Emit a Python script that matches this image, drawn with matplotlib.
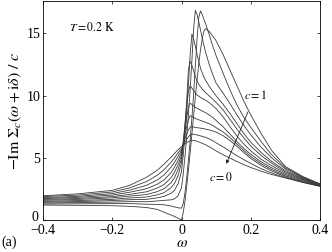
import matplotlib
matplotlib.use('Agg')
import matplotlib.pyplot as plt
from matplotlib.transforms import ScaledTranslation

omega = [-0.4, -0.3, -0.2, -0.15, -0.1, -0.07, -0.05, -0.03, -0.02, -0.01, 0.0,
         0.005, 0.01, 0.015, 0.02, 0.025, 0.03, 0.035, 0.04, 0.045, 0.05, 0.055,
         0.06, 0.065, 0.07, 0.08, 0.09, 0.1, 0.12, 0.14, 0.16, 0.18, 0.2, 0.23,
         0.26, 0.3, 0.35, 0.4]

# -Im Sigma_c / c for c = 0, 0.1, ..., 1
sigma_c00 = [1.95, 2.1, 2.38, 2.78, 3.45, 4.0, 4.5, 5.05, 5.35, 5.65, 5.9,
             6.02, 6.12, 6.22, 6.3, 6.36, 6.4, 6.4, 6.37, 6.33, 6.28, 6.22, 6.16, 6.1, 6.04,
             5.88, 5.72, 5.55, 5.25, 4.97, 4.7, 4.45, 4.22, 3.92, 3.66, 3.38, 3.02, 2.7]
sigma_c01 = [1.88, 2.0, 2.25, 2.58, 3.1, 3.6, 4.05, 4.65, 5.0, 5.4, 5.75,
             6.0, 6.25, 6.48, 6.68, 6.84, 6.9, 6.89, 6.86, 6.83, 6.8, 6.76, 6.72, 6.68, 6.64,
             6.52, 6.38, 6.2, 5.88, 5.52, 5.17, 4.85, 4.55, 4.12, 3.78, 3.4, 3.04, 2.72]
sigma_c02 = [1.8, 1.9, 2.12, 2.4, 2.8, 3.22, 3.63, 4.25, 4.65, 5.12, 5.6,
             6.05, 6.5, 6.9, 7.25, 7.47, 7.5, 7.47, 7.44, 7.42, 7.4, 7.38, 7.36, 7.33, 7.3,
             7.24, 7.16, 7.06, 6.78, 6.38, 5.92, 5.42, 4.95, 4.38, 3.94, 3.48, 3.07, 2.74]
sigma_c03 = [1.72, 1.82, 2.0, 2.23, 2.52, 2.88, 3.23, 3.82, 4.25, 4.8, 5.4,
             6.1, 6.85, 7.5, 8.05, 8.38, 8.32, 8.24, 8.17, 8.11, 8.05, 8.0, 7.95, 7.9, 7.85,
             7.74, 7.6, 7.42, 7.08, 6.62, 6.1, 5.58, 5.1, 4.52, 4.06, 3.55, 3.13, 2.76]
sigma_c04 = [1.65, 1.73, 1.88, 2.06, 2.27, 2.57, 2.86, 3.4, 3.85, 4.45, 5.2,
             6.2, 7.2, 8.2, 9.1, 9.38, 9.28, 9.15, 9.05, 8.97, 8.9, 8.83, 8.76, 8.69, 8.62,
             8.45, 8.25, 8.0, 7.5, 6.9, 6.3, 5.75, 5.28, 4.67, 4.2, 3.65, 3.2, 2.78]
sigma_c05 = [1.58, 1.65, 1.78, 1.92, 2.05, 2.28, 2.52, 3.0, 3.42, 4.05, 4.95,
             6.3, 7.7, 9.1, 10.4, 10.78, 10.6, 10.4, 10.2, 10.05, 9.95, 9.85, 9.77, 9.7, 9.62,
             9.43, 9.2, 8.95, 8.3, 7.5, 6.75, 6.1, 5.55, 4.88, 4.37, 3.75, 3.25, 2.8]
sigma_c06 = [1.5, 1.56, 1.66, 1.77, 1.85, 2.02, 2.2, 2.6, 2.95, 3.55, 4.6,
             6.0, 7.6, 9.6, 12.1, 12.75, 12.45, 12.0, 11.55, 11.15, 10.9, 10.7, 10.52, 10.36, 10.22,
             9.97, 9.72, 9.45, 8.85, 8.1, 7.3, 6.6, 5.95, 5.18, 4.57, 3.86, 3.3, 2.82]
sigma_c07 = [1.43, 1.48, 1.56, 1.63, 1.66, 1.78, 1.9, 2.15, 2.4, 2.9, 3.9,
             5.2, 6.8, 8.7, 10.9, 13.3, 14.95, 14.55, 13.95, 13.3, 12.7, 12.2, 11.8, 11.48, 11.2,
             10.75, 10.35, 9.98, 9.3, 8.55, 7.75, 6.95, 6.25, 5.42, 4.72, 3.96, 3.35, 2.84]
sigma_c08 = [1.36, 1.4, 1.44, 1.48, 1.47, 1.53, 1.58, 1.62, 1.7, 1.95, 2.6,
             3.7, 5.1, 6.7, 8.5, 10.5, 12.8, 15.4, 16.85, 16.5, 15.9, 15.25, 14.6, 14.0, 13.45,
             12.5, 11.7, 11.0, 10.2, 9.35, 8.45, 7.6, 6.85, 5.85, 5.0, 4.1, 3.4, 2.86]
sigma_c09 = [1.28, 1.3, 1.32, 1.32, 1.27, 1.25, 1.22, 1.12, 1.05, 0.98, 0.95,
             1.3, 2.2, 3.4, 4.8, 6.4, 8.2, 10.1, 12.4, 14.6, 16.3, 16.8, 16.5, 16.1, 15.75,
             14.9, 14.0, 13.2, 11.8, 10.45, 9.25, 8.25, 7.45, 6.3, 5.25, 4.2, 3.45, 2.88]
sigma_c10 = [1.2, 1.18, 1.15, 1.1, 1.0, 0.85, 0.62, 0.4, 0.28, 0.14, 0.0,
             0.6, 1.5, 2.7, 4.0, 5.4, 6.9, 8.4, 9.9, 11.3, 12.6, 13.7, 14.6, 15.2, 15.38,
             15.15, 14.8, 14.4, 13.3, 12.05, 10.8, 9.55, 8.45, 6.95, 5.6, 4.3, 3.5, 2.9]

curves = [sigma_c00, sigma_c01, sigma_c02, sigma_c03, sigma_c04, sigma_c05,
          sigma_c06, sigma_c07, sigma_c08, sigma_c09, sigma_c10]

x_ticks = [-0.4, -0.2, 0, 0.2, 0.4]
x_ticklabels = ['\u22120.4', '\u22120.2', '0', '0.2', '0.4']
y_ticks = [0, 5, 10, 15]

plt.rcParams['font.family'] = ['Liberation Serif', 'DejaVu Serif']
plt.rcParams['mathtext.fontset'] = 'stix'

fig = plt.figure(figsize=(3.32, 2.52), dpi=100)
ax = fig.add_axes([0.1295, 0.127, 0.8344, 0.869])

for vals in curves:
    ax.plot(omega, vals, color='#3a3a3a', lw=0.6)

ax.set_xlim(-0.4, 0.4)
ax.set_ylim(0, 17.6)
ax.set_xticks(x_ticks)
ax.set_xticklabels(x_ticklabels)
ax.set_yticks(y_ticks)
ax.tick_params(direction='in', top=True, right=True, length=2.5, width=0.5,
               labelsize=10, pad=2)
ax.tick_params(axis='x', pad=3)
for s in ax.spines.values():
    s.set_linewidth(0.6)

# nudge the "0" on the y axis up so it clears the "-0.4" below it
lab0 = ax.get_yticklabels()[0]
lab0.set_transform(lab0.get_transform() + ScaledTranslation(-1 / 72, 3 / 72, fig.dpi_scale_trans))

ax.set_xlabel(r'$\omega$', fontsize=11, labelpad=0)
ax.set_ylabel(r'$-\mathrm{Im}\ \Sigma_c(\omega + \mathrm{i}\delta)\ /\ c$', fontsize=11.5, labelpad=2)

# annotations
ax.text(-0.325, 15.2, r'$T = 0.2\ \mathrm{K}$', fontsize=8.5)
ax.text(0.214, 10.0, r'$c = 1$', fontsize=8.5, ha='center', va='center')
ax.text(0.115, 3.4, r'$c = 0$', fontsize=8.5, ha='center', va='center')
ax.annotate('', xy=(0.126, 4.3), xytext=(0.195, 8.9),
            arrowprops=dict(arrowstyle='-|>', lw=0.6, color='#222222', mutation_scale=5))

fig.text(0.005, 0.025, '(a)', fontsize=10)

fig.savefig('out.png', dpi=100)
